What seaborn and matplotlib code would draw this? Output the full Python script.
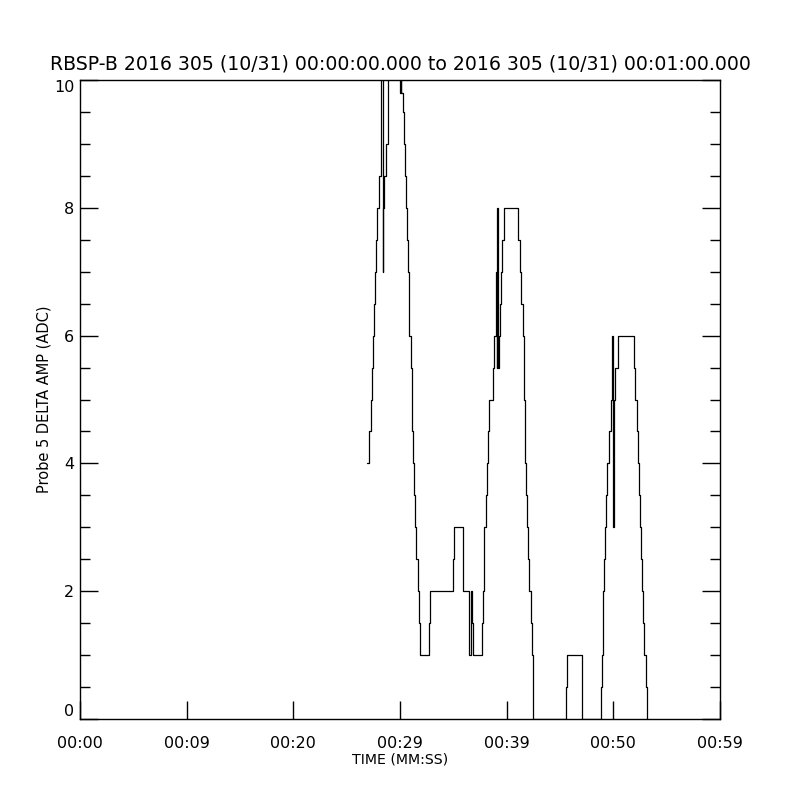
import matplotlib
matplotlib.use("Agg")
import matplotlib.pyplot as plt
import seaborn as sns
import pandas as pd
from matplotlib.ticker import MultipleLocator

# ---- data (seconds after 00:00:00, probe 5 delta amp in ADC) ----
time_s = [
    26.93, 27.12, 27.25, 27.35, 27.44, 27.56, 27.66, 27.78, 27.87, 28.06,
    28.22, 28.41, 28.45, 28.53, 28.66, 28.90, 30.03, 30.07, 30.09, 30.25,
    30.38, 30.50, 30.59, 30.66, 30.72, 30.80, 30.87, 31.00, 31.10, 31.15,
    31.22, 31.34, 31.43, 31.53, 31.66, 31.81, 31.90, 32.72, 32.84, 35.00,
    35.09, 35.93, 36.50, 36.66, 36.78, 36.83, 37.72, 37.81, 37.90, 38.03,
    38.13, 38.28, 38.37, 38.75, 38.79, 39.00, 39.07, 39.12, 39.17, 39.25,
    39.35, 39.44, 39.59, 39.72, 41.09, 41.28, 41.37, 41.50, 41.58, 41.64,
    41.70, 41.75, 41.81, 41.93, 42.03, 42.12, 42.25, 42.38, 42.50, 45.53,
    45.63, 47.02, 48.82, 48.91, 49.00, 49.06, 49.15, 49.22, 49.28, 49.38,
    49.62, 49.75, 49.85, 49.92, 49.99, 50.03, 50.09, 50.18, 50.44, 51.91,
    52.03, 52.19, 52.28, 52.41, 52.50, 52.59, 52.72, 52.81, 52.90, 53.03,
    53.13,
]
amp_adc = [
    4.0, 4.5, 5.0, 5.5, 6.0, 6.5, 7.0, 7.5, 8.0, 8.5,
    10.5, 7.0, 8.0, 8.5, 9.0, 10.5, 9.8, 10.5, 9.8, 9.5,
    9.0, 8.5, 8.0, 7.5, 7.0, 6.5, 6.0, 5.5, 5.0, 4.5,
    4.0, 3.5, 3.0, 2.5, 2.0, 1.5, 1.0, 1.5, 2.0, 2.5,
    3.0, 2.0, 1.0, 2.0, 1.5, 1.0, 1.5, 2.0, 3.0, 3.5,
    4.0, 4.5, 5.0, 5.5, 6.0, 7.0, 5.5, 8.0, 5.5, 6.0,
    6.5, 7.0, 7.5, 8.0, 7.5, 7.0, 6.5, 6.0, 5.5, 5.0,
    4.5, 4.0, 3.5, 3.0, 2.5, 2.0, 1.5, 1.0, 0.0, 0.5,
    1.0, 0.0, 0.5, 1.0, 1.5, 2.0, 2.5, 3.0, 3.5, 4.0,
    4.5, 5.0, 5.5, 6.0, 3.0, 4.0, 5.0, 5.5, 6.0, 5.5,
    5.0, 4.5, 4.0, 3.5, 3.0, 2.5, 2.0, 1.5, 1.0, 0.5,
    0.0,
]
xtick_vals = [0, 10, 20, 30, 40, 50, 60]
xtick_labels = ["00:00", "00:09", "00:20", "00:29", "00:39", "00:50", "00:59"]
ytick_vals = [0, 2, 4, 6, 8, 10]
title_text = "RBSP-B 2016 305 (10/31) 00:00:00.000 to 2016 305 (10/31) 00:01:00.000"

df = pd.DataFrame({"t": time_s, "amp": amp_adc})

sns.set_theme(style="ticks")
plt.rcParams["font.family"] = ["DejaVu Sans"]
plt.rcParams["text.color"] = "black"
plt.rcParams["axes.labelcolor"] = "black"
plt.rcParams["xtick.color"] = "black"
plt.rcParams["ytick.color"] = "black"

fig = plt.figure(figsize=(8, 8), dpi=100)
ax = fig.add_axes([0.1, 0.10125, 0.8, 0.79875])

sns.lineplot(data=df, x="t", y="amp", ax=ax, color="black", linewidth=0.9,
             drawstyle="steps-post", estimator=None)

ax.set_xlim(0, 60)
ax.set_ylim(0, 10)
ax.set_xticks(xtick_vals)
ax.set_xticklabels(xtick_labels, fontsize=11.5, color="black")
ax.set_yticks(ytick_vals)
ax.set_yticklabels([str(v) for v in ytick_vals], fontsize=11.5, color="black")
ax.yaxis.set_minor_locator(MultipleLocator(0.5))

for side in ["left", "right", "top", "bottom"]:
    ax.spines[side].set_visible(True)
    ax.spines[side].set_color("black")
    ax.spines[side].set_linewidth(1.0)

ax.tick_params(axis="x", which="major", direction="in", length=13, width=1,
               color="black", labelcolor="black", pad=12, top=False, bottom=True)
ax.tick_params(axis="y", which="major", direction="in", length=13, width=1,
               color="black", labelcolor="black", pad=4, left=True, right=True)
ax.tick_params(axis="y", which="minor", direction="in", length=7, width=1,
               color="black", left=True, right=True)
ax.tick_params(axis="x", which="minor", bottom=False, top=False)

ylabels = ax.get_yticklabels()
ylabels[0].set_verticalalignment("bottom")
ylabels[-1].set_verticalalignment("top")

ax.set_xlabel("TIME (MM:SS)", fontsize=10.2, labelpad=1, color="black")
ax.set_ylabel("Probe 5 DELTA AMP (ADC)", fontsize=10.5, labelpad=2, color="black")
ax.set_title(title_text, fontsize=13.6, pad=7.5, color="black")
ax.set_facecolor("white")
fig.patch.set_facecolor("white")

fig.savefig("out.png", dpi=100, facecolor="white")
